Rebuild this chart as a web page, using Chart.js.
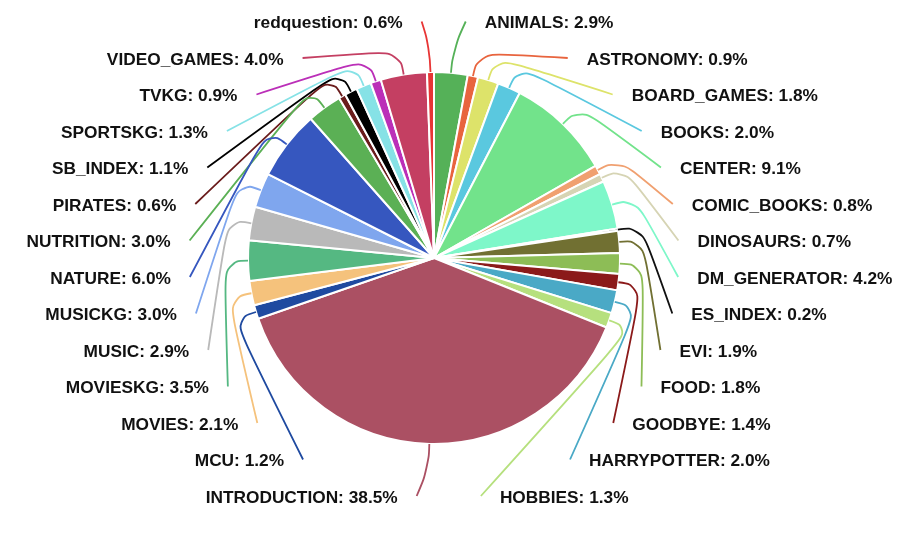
<!DOCTYPE html>
<html>
<head>
<meta charset="utf-8">
<script src="https://cdn.jsdelivr.net/npm/chart.js@4.4.0/dist/chart.umd.min.js"></script>
<style>
  html, body { margin: 0; padding: 0; background: #fff; }
  #wrap { width: 914px; height: 534px; position: relative; }
</style>
</head>
<body>
<div id="wrap"><canvas id="topicChart"></canvas></div>
<script>
const categories = [
  'ANIMALS', 'ASTRONOMY', 'BOARD_GAMES', 'BOOKS', 'CENTER', 'COMIC_BOOKS', 'DINOSAURS',
  'DM_GENERATOR', 'ES_INDEX', 'EVI', 'FOOD', 'GOODBYE', 'HARRYPOTTER', 'HOBBIES',
  'INTRODUCTION', 'MCU', 'MOVIES', 'MOVIESKG', 'MUSIC', 'MUSICKG', 'NATURE',
  'NUTRITION', 'PIRATES', 'SB_INDEX', 'SPORTSKG', 'TVKG', 'VIDEO_GAMES', 'redquestion'
];
const shares = [
  2.9, 0.9, 1.8, 2.0, 9.1, 0.8, 0.7,
  4.2, 0.2, 1.9, 1.8, 1.4, 2.0, 1.3,
  38.5, 1.2, 2.1, 3.5, 2.9, 3.0, 6.0,
  3.0, 0.6, 1.1, 1.3, 0.9, 4.0, 0.6
];
const sliceColors = [
  '#55b158', '#e8643e', '#dde36a', '#5ac8df', '#72e38b', '#f0a070', '#d6d4b4',
  '#7ef7c9', '#111111', '#717032', '#8dbd56', '#8b1a1a', '#4aa9c6', '#b6e07e',
  '#ab5063', '#1f4aa0', '#f5c27c', '#55b882', '#b9b9b9', '#7fa6ee', '#3657bf',
  '#5bb055', '#6a1c1c', '#000000', '#86e2e6', '#bb2fb8', '#c43f62', '#e83535'
];

// where the outside labels go
const labelLayout = {
  top: 22.5,
  bottom: 497,
  lineOut: 24,
  ellipseA: 245,
  ellipseB: { topRight: 237.5, bottomRight: 243.5, topLeft: 235.8, bottomLeft: 239.6 },
  textGap: 19,
  smooth: 0.5
};

const lerp = (a, b, t) => [a[0] + (b[0] - a[0]) * t, a[1] + (b[1] - a[1]) * t];
const dist = (a, b) => Math.hypot(b[0] - a[0], b[1] - a[1]);

const outsideLabels = {
  id: 'outsideLabels',
  afterDatasetsDraw(chart) {
    const ctx = chart.ctx;
    const arcs = chart.getDatasetMeta(0).data;
    const left = [], right = [];
    arcs.forEach((arc, i) => {
      const p = arc.getProps(['x', 'y', 'startAngle', 'endAngle', 'outerRadius'], true);
      const mid = (p.startAngle + p.endAngle) / 2;
      const item = { i, cx: p.x, cy: p.y, r: p.outerRadius, ux: Math.cos(mid), uy: Math.sin(mid) };
      item.naturalY = p.y + item.uy * p.outerRadius;
      (item.ux < 0 ? left : right).push(item);
    });

    const L = labelLayout;
    const place = (list, dir) => {
      list.sort((a, b) => a.naturalY - b.naturalY);
      const step = list.length > 1 ? (L.bottom - L.top) / (list.length - 1) : 0;
      list.forEach((it, k) => {
        const y = L.top + k * step;
        const dy = y - it.cy;
        let rB;
        if (dir > 0) rB = dy < 0 ? L.ellipseB.topRight : L.ellipseB.bottomRight;
        else rB = dy < 0 ? L.ellipseB.topLeft : L.ellipseB.bottomLeft;
        const e = L.ellipseA * Math.sqrt(Math.max(0, 1 - (dy * dy) / (rB * rB)));
        const p0 = [it.cx + it.ux * it.r, it.cy + it.uy * it.r];
        const p1 = [it.cx + it.ux * (it.r + L.lineOut), it.cy + it.uy * (it.r + L.lineOut)];
        const p2 = [it.cx + dir * e, y - 1];

        ctx.save();
        ctx.strokeStyle = sliceColors[it.i];
        ctx.lineWidth = 1.8;
        ctx.beginPath();
        ctx.moveTo(p0[0], p0[1]);
        const l1 = dist(p0, p1), l2 = dist(p1, p2);
        const m = Math.min(l1, l2) * L.smooth;
        const a = lerp(p1, p0, m / l1);
        const b = lerp(p1, p2, m / l2);
        const c = lerp(a, b, 0.5);
        ctx.bezierCurveTo(a[0], a[1], a[0], a[1], c[0], c[1]);
        ctx.bezierCurveTo(b[0], b[1], b[0], b[1], p2[0], p2[1]);
        ctx.stroke();

        ctx.fillStyle = '#111111';
        ctx.font = 'bold 17.3px "Liberation Sans", Arial, sans-serif';
        ctx.textBaseline = 'middle';
        ctx.textAlign = dir > 0 ? 'left' : 'right';
        const text = categories[it.i] + ': ' + shares[it.i].toFixed(1) + '%';
        ctx.fillText(text, p2[0] + dir * L.textGap, y + 1);
        ctx.restore();
      });
    };
    place(right, 1);
    place(left, -1);
  }
};

const topicChart = new Chart(document.getElementById('topicChart'), {
  type: 'pie',
  data: {
    labels: categories,
    datasets: [{
      data: shares,
      backgroundColor: sliceColors,
      borderColor: '#ffffff',
      borderWidth: 2
    }]
  },
  options: {
    responsive: true,
    maintainAspectRatio: false,
    animation: false,
    events: [],
    layout: { padding: { top: 71, left: 247, right: 293, bottom: 89 } },
    plugins: {
      legend: { display: false },
      tooltip: { enabled: false }
    }
  },
  plugins: [outsideLabels]
});
</script>
</body>
</html>
